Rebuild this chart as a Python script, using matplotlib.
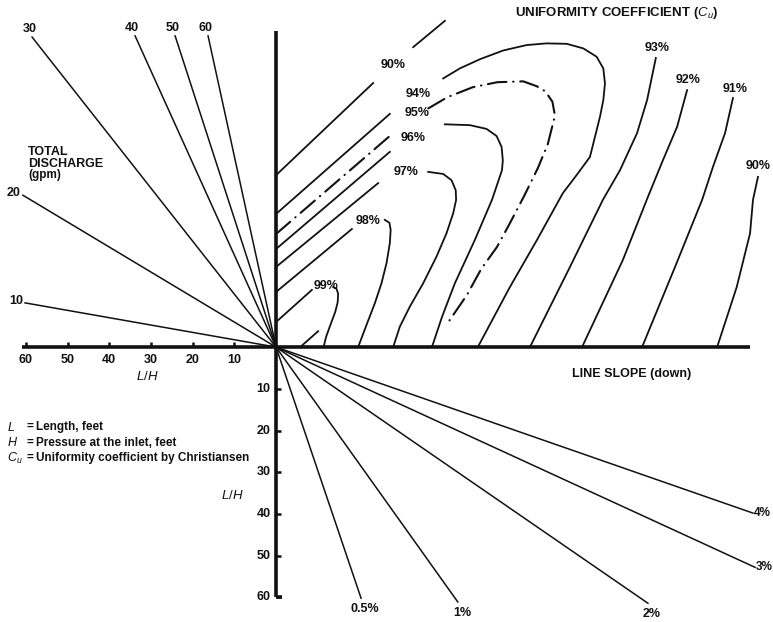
import matplotlib
matplotlib.use("Agg")
import matplotlib.pyplot as plt

plt.rcParams["font.family"] = "Liberation Sans"
plt.rcParams["mathtext.fontset"] = "custom"
plt.rcParams["mathtext.it"] = "Liberation Sans:italic"
plt.rcParams["mathtext.rm"] = "Liberation Sans"

# -----------------------------------------------------------
# data (all in L/H chart units, origin = meeting point of the axes)
# -----------------------------------------------------------
lh_ticks = [10, 20, 30, 40, 50, 60]

# total discharge fan (upper left)
discharge_labels = ['10', '20', '30', '40', '50', '60']
discharge_end_x = [-60.2, -60.7, -58.5, -33.8, -24.2, -16.3]
discharge_end_y = [10.6, 36.4, 74.3, 74.6, 74.6, 74.6]

# line slope fan (lower right)
slope_labels = ['0.5%', '1%', '2%', '3%', '4%']
slope_end_x = [20.4, 43.6, 89.2, 114.9, 114.4]
slope_end_y = [-60.2, -61.1, -61.4, -52.8, -39.8]

# straight left arms of the Cu contours, starting on the vertical axis
arm_labels = ['90%', '94%', '95%', '96%', '97%', '98%', '99%']
arm_y0 = [41.2, 31.9, 27.1, 23.5, 19.2, 13.2, 6.0]
arm_x1 = [23.3, 27.3, 28.1, 27.3, 24.5, 18.2, 8.6]
arm_y1 = [63.3, 55.9, 51.3, 46.8, 39.3, 28.3, 13.7]

# upper piece of the outer 90% line (beyond its label)
cu90_top_x = [32.9, 40.5]
cu90_top_y = [71.9, 78.2]

# closed-end parts of the Cu contours
cu94_x = [40.1, 44.1, 48.9, 54.5, 60.1, 64.9, 69.7, 73.7, 76.9, 78.5, 78.9, 78.5,
          77.7, 76.5, 75.3, 72.3, 68.8, 62.6, 56.1, 48.4]
cu94_y = [64.4, 66.8, 69.0, 71.1, 72.4, 72.8, 72.7, 71.6, 69.6, 66.8, 63.2, 59.2,
          55.2, 50.4, 45.6, 41.5, 36.9, 25.7, 14.4, 0.0]

cu95_x = [36.5, 41.1, 47.2, 53.1, 59.3, 62.6, 64.6, 66.3, 66.9, 65.2, 62.8, 59.5,
          56.1, 53.0, 49.2, 45.8, 41.2]
cu95_y = [57.2, 59.9, 62.3, 63.5, 63.7, 62.5, 61.3, 58.8, 55.5, 48.7, 42.9, 36.2,
          29.7, 24.0, 18.7, 12.5, 5.8]

cu96_x = [40.5, 46.5, 50.5, 52.9, 54.1, 54.4, 54.2, 51.8, 47.7, 42.9, 39.8, 37.4]
cu96_y = [53.4, 53.2, 52.3, 50.6, 48.0, 44.8, 42.4, 35.3, 25.7, 15.3, 7.2, 0.0]

cu97_x = [36.5, 40.1, 42.1, 43.1, 43.2, 42.5, 40.9, 38.5, 35.3, 32.1, 29.7, 28.1]
cu97_y = [42.0, 41.5, 40.0, 37.6, 35.3, 32.1, 27.3, 21.7, 15.3, 9.7, 4.9, 0.0]

cu98_x = [26.1, 27.2, 27.5, 27.3, 26.5, 25.3, 23.7, 21.7, 19.7]
cu98_y = [30.5, 29.8, 28.1, 24.9, 20.1, 15.3, 10.5, 5.3, 0.0]

cu99_x = [13.7, 14.5, 14.9, 14.8, 14.2, 13.0, 12.0, 11.4]
cu99_y = [14.4, 14.0, 12.8, 10.8, 8.4, 5.2, 2.4, 0.0]

# short innermost stroke next to the origin
cu99_inner_x = [5.8, 10.1]
cu99_inner_y = [0.0, 3.8]

# open contours on the right
cu93_x = [91.1, 89.0, 86.6, 82.5, 78.4, 70.5, 60.9]
cu93_y = [69.3, 59.2, 51.3, 42.4, 35.3, 19.2, 0.0]

cu92_x = [98.6, 96.2, 92.8, 89.2, 83.2, 73.4]
cu92_y = [61.6, 52.8, 44.8, 36.0, 20.9, 0.0]

cu91_x = [109.6, 107.7, 104.8, 102.2, 95.7, 87.8]
cu91_y = [59.7, 51.3, 43.2, 35.3, 19.2, 0.0]

cu90_x = [115.6, 114.4, 113.7, 110.5, 105.8]
cu90_y = [40.8, 35.3, 27.3, 14.4, 0.0]

# contour label text and positions
cu_text = ['90%', '94%', '95%', '96%', '97%', '98%', '99%', '93%', '92%', '91%', '90%']
cu_text_x = [28.1, 34.1, 33.8, 32.9, 31.2, 22.1, 12.0, 91.4, 98.8, 110.1, 115.6]
cu_text_y = [67.6, 60.7, 56.1, 50.1, 42.0, 30.2, 14.6, 71.7, 64.0, 61.9, 43.4]

#%%
# -----------------------------------------------------------
# figure
# -----------------------------------------------------------
fig = plt.figure(figsize=(7.73, 6.22), dpi=100)
ax = fig.add_axes([0, 0, 1, 1])
ax.set_xlim(-66.2, 119.2)
ax.set_ylim(-65.9, 83.2)
ax.axis('off')

ink = '#111111'
lw_axis = 2.6
lw_fan = 1.1
lw_cu = 1.3
fs = 9
dashdot = (9, 3.2, 0.2, 3.2)

# main axes
ax.plot([-61, 113.7], [0, 0], color=ink, lw=lw_axis, solid_capstyle='butt')
ax.plot([0, 0], [-60, 75.8], color=ink, lw=lw_axis, solid_capstyle='butt')
ax.plot([0, 1.4], [-60, -60], color=ink, lw=lw_axis, solid_capstyle='butt')
for t in lh_ticks:
    ax.plot([-t, -t], [0, 1.1], color=ink, lw=1.8, solid_capstyle='butt')
    ax.plot([0, 1.3], [-t, -t], color=ink, lw=1.8, solid_capstyle='butt')
    ax.annotate(str(t), (-t, 0), xytext=(0, -9), textcoords='offset points',
                ha='center', va='center', fontsize=fs, fontweight='bold', color=ink)
    ax.annotate(str(t), (0, -t), xytext=(-4, 0), textcoords='offset points',
                ha='right', va='center', fontsize=fs, fontweight='bold', color=ink)

# discharge fan
for lab, x1, y1 in zip(discharge_labels, discharge_end_x, discharge_end_y):
    ax.plot([0, x1], [0, y1], color=ink, lw=lw_fan)
    if y1 < 50:
        ax.annotate(lab, (x1, y1), xytext=(-1.5, 1.5), textcoords='offset points',
                    ha='right', va='center', fontsize=fs, fontweight='bold', color=ink)
    else:
        ax.annotate(lab, (x1, y1), xytext=(-2, 6), textcoords='offset points',
                    ha='center', va='center', fontsize=fs, fontweight='bold', color=ink)

# slope fan
for lab, x1, y1 in zip(slope_labels, slope_end_x, slope_end_y):
    ax.plot([0, x1], [0, y1], color=ink, lw=lw_fan)
    if x1 > 100:
        ax.annotate(lab, (x1, y1), xytext=(0.3, 0), textcoords='offset points',
                    ha='left', va='center', fontsize=8.5, fontweight='bold', color=ink)
    else:
        ax.annotate(lab, (x1, y1), xytext=(3, -8), textcoords='offset points',
                    ha='center', va='center', fontsize=fs, fontweight='bold', color=ink)

# Cu contours
for lab, y0, x1, y1 in zip(arm_labels, arm_y0, arm_x1, arm_y1):
    if lab == '95%':
        ax.plot([0, x1], [y0, y1], color=ink, lw=1.5, dashes=dashdot,
                dash_capstyle='round')
    else:
        ax.plot([0, x1], [y0, y1], color=ink, lw=lw_cu)
ax.plot(cu90_top_x, cu90_top_y, color=ink, lw=lw_cu)
for xs, ys in [(cu94_x, cu94_y), (cu96_x, cu96_y), (cu97_x, cu97_y),
               (cu98_x, cu98_y), (cu99_x, cu99_y), (cu99_inner_x, cu99_inner_y),
               (cu93_x, cu93_y), (cu92_x, cu92_y), (cu91_x, cu91_y),
               (cu90_x, cu90_y)]:
    ax.plot(xs, ys, color=ink, lw=lw_cu, solid_joinstyle='round')
ax.plot(cu95_x, cu95_y, color=ink, lw=1.5, dashes=dashdot, dash_capstyle='round')

for lab, x, y in zip(cu_text, cu_text_x, cu_text_y):
    ax.text(x, y, lab, ha='center', va='center', fontsize=fs, fontweight='bold', color=ink)

# titles and notes
ax.text(81.8, 80.1, r'UNIFORMITY COEFFICIENT ($C_u$)', ha='center', va='center',
        fontsize=9.5, fontweight='bold', color=ink)
ax.text(85.4, -6.5, 'LINE SLOPE (down)', ha='center', va='center',
        fontsize=9, fontweight='bold', color=ink)
ax.text(-59.5, 46.8, 'TOTAL', ha='left', va='center', fontsize=9, fontweight='bold', color=ink)
ax.text(-59.5, 44.0, 'DISCHARGE', ha='left', va='center', fontsize=9, fontweight='bold', color=ink)
ax.text(-59.5, 41.3, '(gpm)', ha='left', va='center', fontsize=8.5, fontweight='bold', color=ink)
ax.text(-30.9, -7.0, r'$L/H$', ha='center', va='center', fontsize=9.5, color=ink)
ax.text(-10.6, -35.5, r'$L/H$', ha='center', va='center', fontsize=9.5, color=ink)

note_sym = [r'$L$', r'$H$', r'$C_u$']
note_txt = ['Length, feet', 'Pressure at the inlet, feet',
            'Uniformity coefficient by Christiansen']
for i, (s, t) in enumerate(zip(note_sym, note_txt)):
    y = -19.2 - 3.7 * i
    ax.text(-64.6, y, s, ha='left', va='center', fontsize=9, color=ink)
    ax.text(-59.9, y, '=', ha='left', va='center', fontsize=8.5, fontweight='bold', color=ink)
    ax.text(-57.6, y, t, ha='left', va='center', fontsize=8.5, fontweight='bold', color=ink)

fig.savefig('out.png', dpi=100)
